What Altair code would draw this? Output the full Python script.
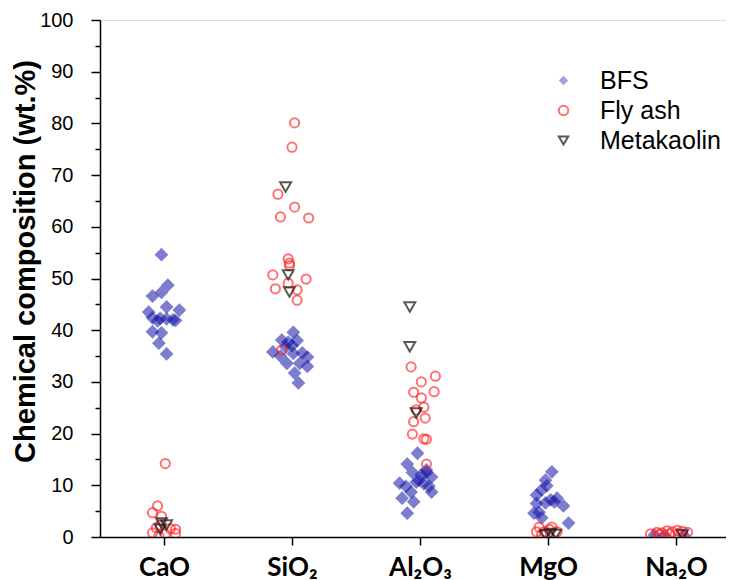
import json
import altair as alt
import pandas as pd

categories = ["CaO", "SiO₂", "Al₂O₃", "MgO", "Na₂O"]
series_names = ["BFS", "Fly ash", "Metakaolin"]

# category index (1-based), value (wt.%), horizontal jitter (category units)
bfs_cat = [1]*17 + [2]*16 + [3]*18 + [4]*15 + [5]*3
bfs_val = [54.6, 48.7, 46.6, 47.3, 44.5, 43.9, 43.5, 42.4, 42.3, 42.2, 42.0, 41.8, 41.9, 39.7, 39.5, 37.5, 35.4,
           39.6, 38.1, 37.7, 38.0, 35.8, 36.8, 35.5, 34.8, 33.6, 33.6, 33.0, 31.7, 29.8, 37.0, 35.0, 35.6,
           16.2, 14.1, 13.0, 12.0, 12.5, 11.6, 10.6, 10.4, 10.3, 9.8, 9.8, 8.7, 8.7, 7.5, 6.8, 4.6, 11.0, 12.5,
           12.6, 11.0, 9.9, 9.1, 8.1, 7.5, 7.2, 6.6, 6.0, 6.8, 4.8, 4.6, 3.7, 2.7, 6.5,
           0.4, 0.3, 0.3]
bfs_jit = [-0.02, 0.03, -0.09, -0.02, 0.02, 0.12, -0.12, -0.09, -0.03, 0.02, 0.07, -0.05, 0.09, -0.09, -0.02, -0.04, 0.02,
           0.01, -0.08, -0.03, 0.04, -0.15, -0.05, 0.01, 0.12, -0.04, 0.06, 0.12, 0.02, 0.05, 0.0, -0.09, 0.08,
           -0.02, -0.10, 0.05, 0.01, -0.06, 0.09, -0.03, -0.16, 0.03, -0.11, 0.07, -0.07, 0.09, -0.14, -0.05, -0.10, -0.01, 0.05,
           0.03, -0.02, -0.01, -0.05, -0.09, 0.07, 0.02, -0.02, 0.12, 0.05, -0.07, -0.11, -0.05, 0.16, -0.09,
           -0.17, -0.09, 0.06]

fly_cat = [1]*12 + [2]*16 + [3]*14 + [4]*7 + [5]*11
fly_val = [14.2, 6.0, 4.7, 4.0, 2.3, 1.8, 1.6, 1.5, 0.8, 0.6, 0.7, 0.2,
           80.1, 75.4, 66.3, 63.8, 61.9, 61.7, 53.8, 53.0, 52.5, 50.7, 49.9, 49.1, 48.0, 47.8, 45.8, 36.2,
           32.9, 31.1, 30.0, 28.1, 28.0, 26.9, 25.1, 24.6, 23.0, 22.3, 19.9, 19.0, 18.9, 14.1,
           1.9, 1.9, 1.0, 1.0, 1.0, 1.5, 0.5,
           0.6, 0.9, 0.8, 1.2, 1.0, 1.3, 1.1, 0.9, 0.5, 0.6, 0.7]
fly_jit = [0.01, -0.05, -0.09, -0.02, -0.03, -0.06, 0.05, 0.09, -0.09, 0.01, 0.09, -0.04,
           0.02, 0.0, -0.11, 0.02, -0.09, 0.13, -0.03, -0.02, -0.02, -0.15, 0.11, -0.03, -0.13, 0.04, 0.04, -0.08,
           -0.07, 0.12, 0.01, 0.11, -0.05, 0.01, 0.03, -0.03, 0.04, -0.05, -0.06, 0.03, 0.05, 0.05,
           -0.07, 0.03, -0.09, -0.03, 0.07, 0.01, -0.05,
           -0.20, -0.15, -0.11, -0.07, -0.03, 0.01, 0.05, 0.09, -0.13, -0.05, 0.02]

mk_cat = [1]*3 + [2]*3 + [3]*3 + [4]*3 + [5]*1
mk_val = [2.7, 2.3, 1.5,
          67.7, 50.7, 47.4,
          44.5, 36.8, 24.0,
          0.7, 0.4, 0.5,
          0.4]
mk_jit = [-0.02, 0.02, -0.03,
          -0.05, -0.03, -0.02,
          -0.08, -0.08, -0.03,
          0.02, -0.02, 0.06,
          0.05]

rows = []
for name, cats, vals, jits in [("BFS", bfs_cat, bfs_val, bfs_jit),
                               ("Fly ash", fly_cat, fly_val, fly_jit),
                               ("Metakaolin", mk_cat, mk_val, mk_jit)]:
    for c, v, j in zip(cats, vals, jits):
        rows.append({"series": name, "xpos": c + j, "value": v})
df = pd.DataFrame(rows)

label_expr = json.dumps(categories) + "[round(datum.value) - 1]"

chart = alt.Chart(df).transform_calculate(
    sz="datum.series === 'BFS' ? 190 : (datum.series === 'Fly ash' ? 85 : 120)"
).mark_point(filled=False, strokeWidth=2, clip=True).encode(
    x=alt.X("xpos:Q",
            scale=alt.Scale(domain=[0.5, 5.39], nice=False, zero=False),
            axis=alt.Axis(values=[1, 2, 3, 4, 5], labelExpr=label_expr, title=None, grid=False,
                          labelFont="Lato", labelFontSize=26, labelFontWeight="bold", labelColor="black",
                          labelPadding=9, tickSize=8, tickWidth=1.5, tickColor="black",
                          domainColor="black", domainWidth=1.5)),
    y=alt.Y("value:Q",
            scale=alt.Scale(domain=[0, 100], nice=False),
            axis=alt.Axis(values=list(range(0, 101, 5)),
                          labelExpr="datum.value % 10 === 0 ? datum.label : ''",
                          tickSize={"condition": {"test": "datum.value % 10 === 0", "value": 9}, "value": 5},
                          title="Chemical composition (wt.%)", grid=False,
                          titleFont="Liberation Sans", titleFontSize=29, titleFontWeight="bold", titleColor="black",
                          titleX=-66, titleY=241, titleBaseline="alphabetic", titleAngle=270,
                          labelFont="Liberation Sans", labelFontSize=20, labelColor="black", labelPadding=18,
                          tickWidth=1.5, tickColor="black", domainColor="black", domainWidth=1.5)),
    shape=alt.Shape("series:N", scale=alt.Scale(domain=series_names,
                                                range=["diamond", "circle", "triangle-down"]),
                    legend=alt.Legend(title=None, orient="none", legendX=451, legendY=48,
                                      labelFont="Liberation Sans", labelFontSize=25, labelColor="black",
                                      symbolSize=90, symbolStrokeWidth=2, labelOffset=24, rowPadding=4,
                                      padding=0)),
    fill=alt.Fill("series:N", scale=alt.Scale(domain=series_names,
                                              range=["#1414a8", "transparent", "transparent"])),
    stroke=alt.Stroke("series:N", scale=alt.Scale(domain=series_names,
                                                  range=["transparent", "#ff2020", "#1a1a1a"])),
    opacity=alt.Opacity("series:N", scale=alt.Scale(domain=series_names, range=[0.55, 0.72, 0.9])),
    size=alt.Size("sz:Q", scale=None, legend=None),
).properties(
    width=626, height=517,
    autosize=alt.AutoSizeParams(type="none"),
    padding={"left": 92, "top": 12, "right": 0, "bottom": 43},
).configure_view(stroke=None).configure(background="white")

chart.save("out.html", embed_options={"renderer": "svg", "actions": False})
